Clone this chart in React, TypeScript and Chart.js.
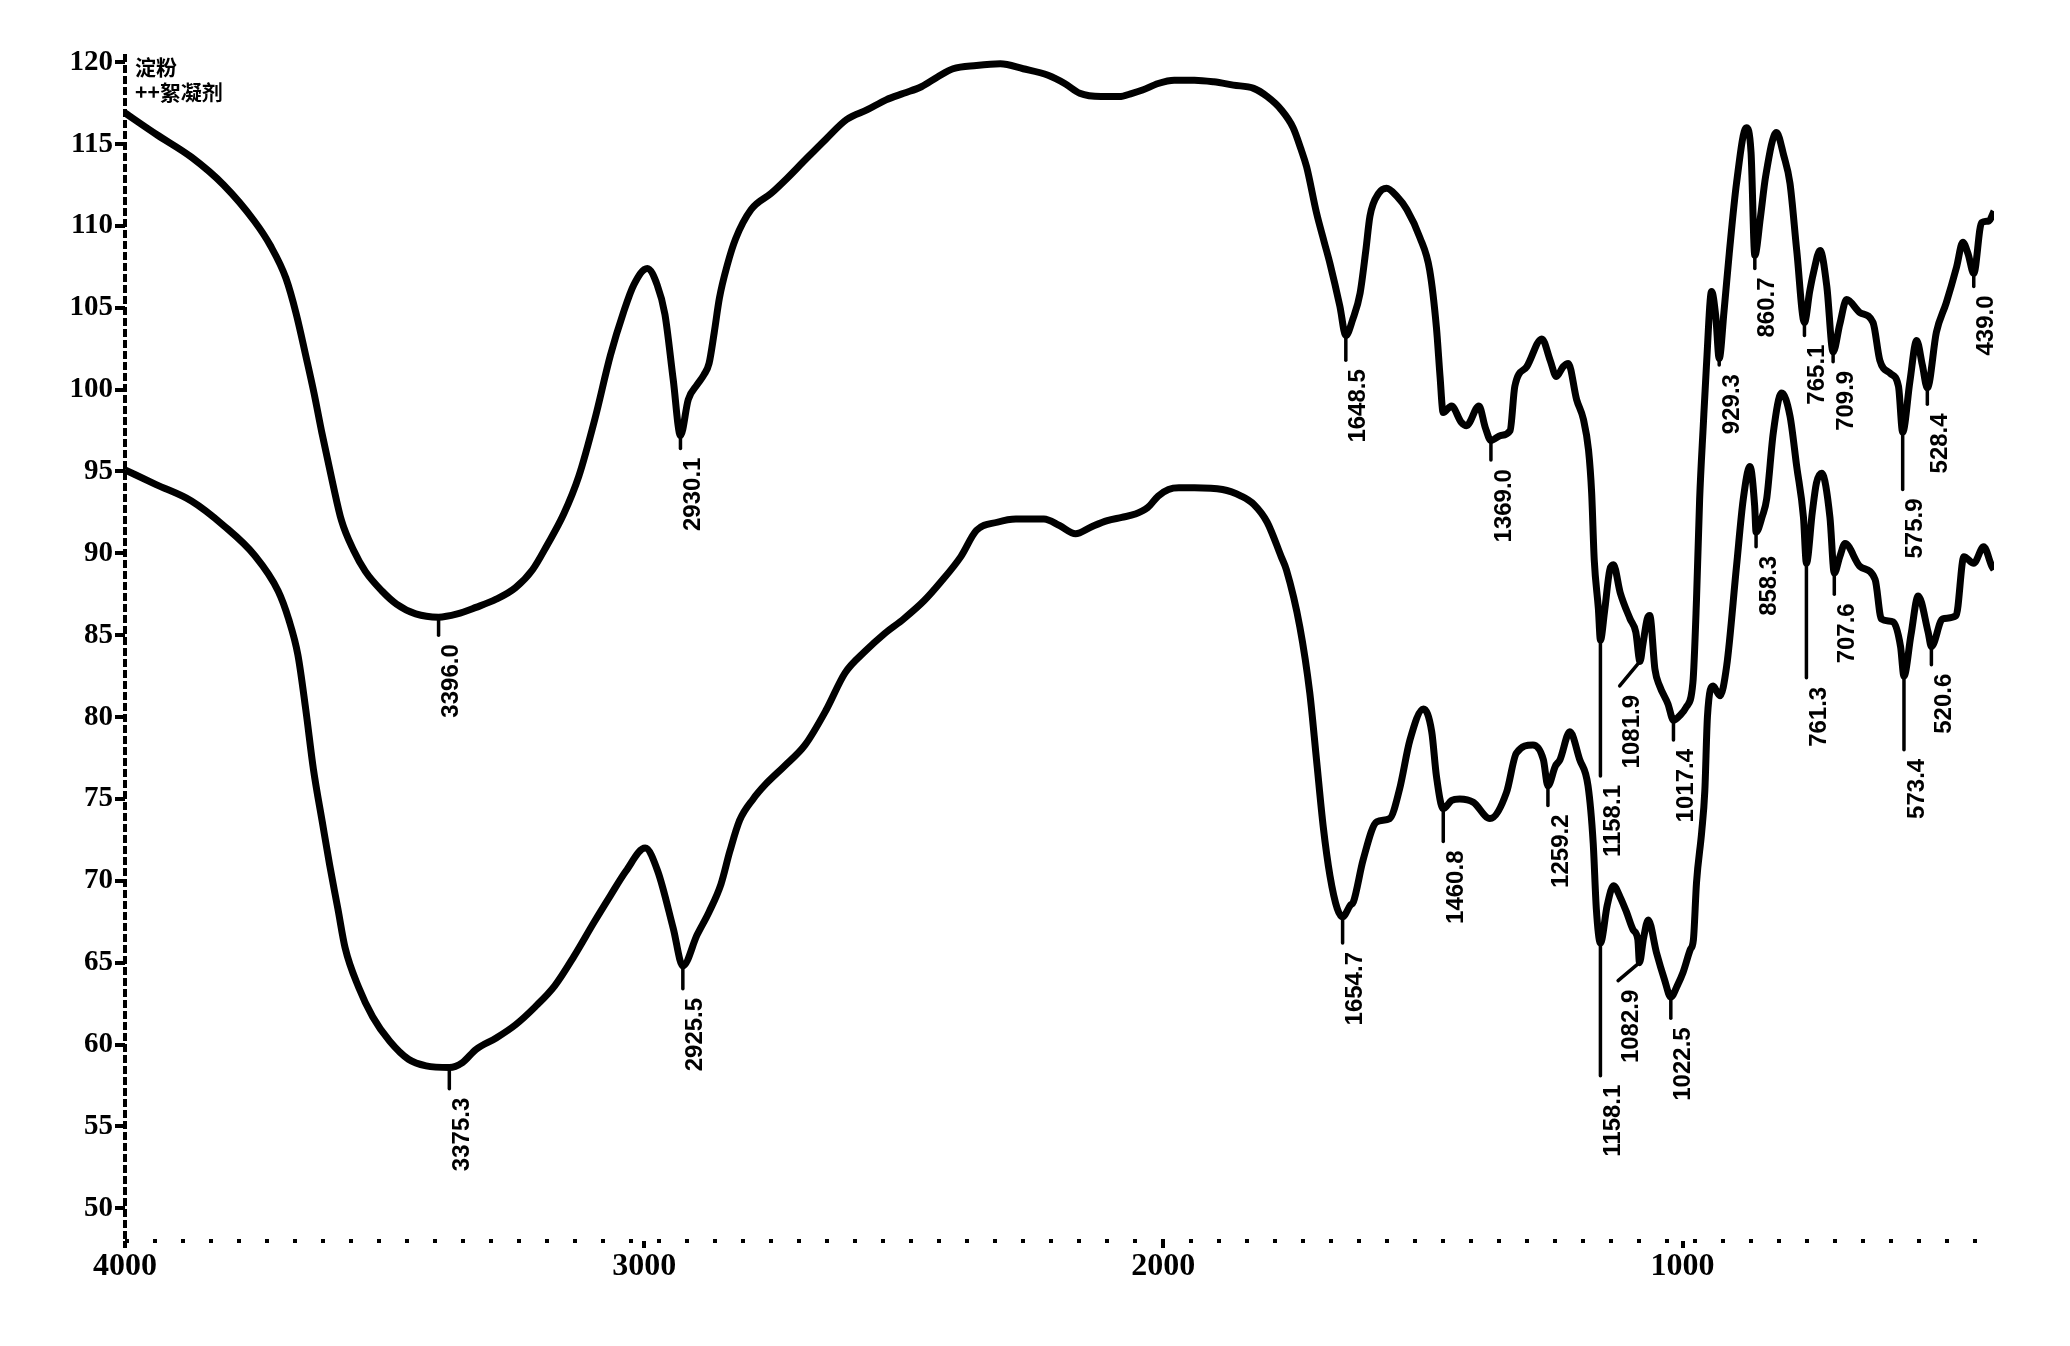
import React, { useEffect, useRef } from 'react';
import { Chart, registerables } from 'chart.js';

Chart.register(...registerables);

// ---------- data (wavenumber cm-1, transmittance %) ----------
const seriesNames = ['淀粉', '絮凝剂'];
const legendMarks = ['', '++'];

const topWn = [4000,3940,3872,3810,3751,3720,3690,3670,3652,3636,3621,3600,3583,3560,3537,3505,3477,3440,3396,3360,3324,3285,3248,3215,3187,3155,3126,3095,3065,3040,3020,2994,2975,2960,2944,2930.1,2915,2898,2885,2875,2865,2855,2840,2824,2794,2755,2725,2694,2650,2610,2570,2534,2500,2466,2435,2405,2360,2314,2270,2222,2190,2161,2120,2085,2060,2040,2010,1979,1940,1903,1865,1826,1800,1773,1750,1735,1724,1705,1690,1679,1660,1648.5,1635,1621,1610,1602,1585,1570,1550,1531,1506,1487,1474,1467,1461,1445,1426,1416,1392,1380,1369,1350,1332,1323,1300,1271,1255,1243,1230,1220,1204,1191,1181,1175,1170,1162,1158.1,1150,1140,1133,1120,1101,1090,1081.9,1076,1068,1063,1053,1044,1028,1017.4,1005,993,980,973,967,960,954,944,936,929.3,920,910,896,877,868,860.7,850,840,819,805,793,780,765.1,755,748,735,722,709.9,697,684,658,633,620,600,584,575.9,562,549,538,528.4,511,492,472,460,450,439,424,410,400];
const topT = [116.9,115.6,114.2,112.5,110.3,108.8,106.8,104.6,102.1,99.8,97.4,94.3,92.0,90.2,88.9,87.7,86.9,86.3,86.1,86.3,86.7,87.2,87.9,89.0,90.5,92.4,94.7,98.2,102.1,104.7,106.4,107.4,106.4,104.6,100.6,97.2,99.4,100.3,100.9,101.6,103.5,105.6,107.6,109.2,111.0,112.0,112.9,113.9,115.3,116.5,117.1,117.7,118.1,118.5,119.1,119.6,119.8,119.9,119.6,119.2,118.7,118.1,117.9,117.9,118.1,118.3,118.7,118.9,118.9,118.8,118.6,118.4,117.9,117.1,116.0,114.7,113.6,110.8,109.0,107.7,105.1,103.3,104.3,105.9,108.5,110.6,112.0,112.3,111.8,111.0,109.3,107.3,103.8,100.8,98.6,99.0,98.0,97.8,99.0,97.7,96.9,97.2,97.5,100.2,101.4,103.1,101.8,100.8,101.4,101.6,99.4,98.2,96.3,93.7,89.6,86.6,84.7,86.5,89.0,89.3,87.6,86.0,85.2,83.4,84.5,86.0,86.2,82.9,81.9,80.8,79.8,80.1,80.6,82.1,87.2,93.3,97.8,101.4,106.0,104.5,101.9,104.8,108.3,112.6,116.0,114.5,108.2,110.5,113.0,115.7,114.3,112.6,108.5,104.1,106.0,107.1,108.5,106.3,102.3,104.0,105.5,104.7,104.1,101.8,101.0,100.2,97.4,100.5,103.0,101.5,100.1,103.5,105.3,107.5,109.0,108.3,107.1,110.2,110.3,110.9];

const botWn = [4000,3940,3872,3810,3751,3705,3685,3667,3652,3637,3620,3606,3590,3576,3550,3523,3490,3454,3420,3375.3,3350,3324,3285,3248,3210,3172,3135,3096,3065,3035,2998,2974,2944,2925.5,2898,2875,2852,2835,2816,2790,2766,2730,2690,2650,2613,2575,2537,2500,2461,2430,2390,2360,2320,2284,2230,2200,2169,2140,2108,2080,2054,2030,2010,1990,1970,1940,1886,1850,1826,1800,1773,1763,1737,1718,1705,1692,1679,1665,1654.7,1640,1634,1615,1589,1564,1545,1525,1499,1483,1474,1460.8,1445,1429,1403,1371,1339,1320,1288,1268,1259.2,1245,1236,1217,1198,1182,1172,1166,1158.1,1145,1133,1120,1108,1095,1086,1082.9,1075,1066,1050,1035,1022.5,1010,999,985,979,973,963,957,952,941,928,915,896,883,870,861,858.3,846,838,825,809,793,780,767,761.3,750,742,732,716,707.6,697,687,658,629,617,594,580,573.4,560,546,527,520.6,499,473,458,439,420,404,400];
const botT = [95.1,94.2,93.2,91.7,89.9,87.7,86.0,83.8,80.5,76.8,73.6,71.0,68.3,65.9,63.5,61.7,60.2,59.1,58.7,58.6,58.9,59.7,60.4,61.2,62.3,63.6,65.4,67.5,69.1,70.6,72.0,70.6,67.1,64.8,66.7,68.1,69.8,71.8,73.7,75.0,75.9,77.0,78.3,80.4,82.7,84.0,85.1,86.0,87.1,88.2,89.8,91.4,91.9,92.1,92.1,91.7,91.2,91.6,92.0,92.2,92.4,92.8,93.5,93.9,94.0,94.0,93.9,93.5,93.0,91.9,89.8,89.0,85.5,81.5,77.4,73.3,70.3,68.3,67.8,68.5,68.7,71.3,73.6,73.8,75.6,78.6,80.5,79.1,76.4,74.4,74.9,75.0,74.8,73.8,75.4,77.8,78.3,77.4,75.8,77.0,77.4,79.1,77.4,75.8,72.3,68.3,66.2,68.5,69.7,69.0,68.1,67.0,66.4,65.0,66.5,67.6,65.6,64.0,62.9,63.6,64.4,65.8,66.4,69.9,73.0,75.5,80.0,81.9,81.3,83.1,89.2,93.3,95.3,92.9,91.3,92.3,93.3,97.4,99.8,98.4,95.3,92.2,89.4,92.5,94.3,94.9,92.2,88.8,89.8,90.6,89.2,88.4,86.0,85.8,84.3,82.5,85.0,87.4,85.2,84.3,86.0,86.2,89.8,89.4,90.4,89.2,89.0];

const xTicks = [4000, 3000, 2000, 1000];
const yTicks = [50, 55, 60, 65, 70, 75, 80, 85, 90, 95, 100, 105, 110, 115, 120];

// peak annotations: label text, peak wavenumber, leader end wavenumber, leader end value
const topPeakText = ['3396.0','2930.1','1648.5','1369.0','1158.1','1081.9','1017.4','929.3','860.7','765.1','709.9','575.9','528.4','439.0'];
const topPeakWn = [3396,2930.1,1648.5,1369,1158.1,1081.9,1017.4,929.3,860.7,765.1,709.9,575.9,528.4,439];
const topLeaderWn = [3396,2930.1,1648.5,1369,1158.1,1121,1017.4,929.3,860.7,765.1,709.9,575.9,528.4,439];
const topLeaderEnd = [85.0,96.4,101.8,95.7,76.4,81.9,78.6,101.5,107.4,103.3,101.7,93.9,99.1,106.3];

const botPeakText = ['3375.3','2925.5','1654.7','1460.8','1259.2','1158.1','1082.9','1022.5','858.3','761.3','707.6','573.4','520.6'];
const botPeakWn = [3375.3,2925.5,1654.7,1460.8,1259.2,1158.1,1082.9,1022.5,858.3,761.3,707.6,573.4,520.6];
const botLeaderWn = [3375.3,2925.5,1654.7,1460.8,1259.2,1158.1,1124,1022.5,858.3,761.3,707.6,573.4,520.6];
const botLeaderEnd = [57.3,63.4,66.2,72.4,74.6,58.1,63.9,61.6,90.4,82.4,87.5,78.0,83.2];

// ---------- helpers ----------
function valueAt(wn: number[], t: number[], w: number): number {
  for (let i = 0; i < wn.length - 1; i++) {
    const a = wn[i], b = wn[i + 1];
    if ((w <= a && w >= b) || (w >= a && w <= b)) {
      if (a === b) return t[i];
      const f = (w - a) / (b - a);
      return t[i] + f * (t[i + 1] - t[i]);
    }
  }
  return t[t.length - 1];
}

const peakGroups = [
  { wn: topWn, t: topT, text: topPeakText, peak: topPeakWn, lw: topLeaderWn, le: topLeaderEnd },
  { wn: botWn, t: botT, text: botPeakText, peak: botPeakWn, lw: botLeaderWn, le: botLeaderEnd },
];

const axesPlugin = {
  id: 'scanAxes',
  beforeDatasetsDraw(chart: any) {
    const { ctx, chartArea } = chart;
    ctx.save();
    ctx.strokeStyle = '#000';
    // y axis: heavy dashed line
    ctx.lineWidth = 4;
    ctx.setLineDash([8, 3]);
    ctx.beginPath();
    ctx.moveTo(chartArea.left, chartArea.top);
    ctx.lineTo(chartArea.left, chartArea.bottom);
    ctx.stroke();
    // x axis: sparse dotted line
    ctx.lineWidth = 4;
    ctx.setLineDash([4, 24]);
    ctx.beginPath();
    ctx.moveTo(chartArea.left, chartArea.bottom);
    ctx.lineTo(chartArea.right, chartArea.bottom);
    ctx.stroke();
    ctx.restore();
  },
};

const peakPlugin = {
  id: 'peakLabels',
  afterDatasetsDraw(chart: any) {
    const { ctx, scales } = chart;
    const xs = scales.x, ys = scales.y;
    ctx.save();
    ctx.strokeStyle = '#000';
    ctx.fillStyle = '#000';
    ctx.lineWidth = 3.5;
    ctx.lineCap = 'round';
    ctx.font = 'bold 24px "Liberation Sans", Arial, sans-serif';
    for (const g of peakGroups) {
      for (let i = 0; i < g.text.length; i++) {
        const v0 = valueAt(g.wn, g.t, g.peak[i]);
        const x0 = xs.getPixelForValue(g.peak[i]);
        const y0 = ys.getPixelForValue(v0);
        const x1 = xs.getPixelForValue(g.lw[i]);
        const y1 = ys.getPixelForValue(g.le[i]);
        ctx.beginPath();
        ctx.moveTo(x0, y0);
        ctx.lineTo(x1, y1);
        ctx.stroke();
        ctx.save();
        ctx.translate(x1 + 13, y1 + 9);
        ctx.rotate(-Math.PI / 2);
        ctx.textAlign = 'right';
        ctx.textBaseline = 'middle';
        ctx.fillText(g.text[i], 0, 0);
        ctx.restore();
      }
    }
    ctx.restore();
  },
};

const legendPlugin = {
  id: 'cornerLegend',
  afterDraw(chart: any) {
    const { ctx, chartArea } = chart;
    ctx.save();
    ctx.fillStyle = '#000';
    ctx.font = 'bold 21px "Noto Sans CJK SC", sans-serif';
    ctx.textAlign = 'left';
    ctx.textBaseline = 'middle';
    chart.data.datasets.forEach((ds: any, i: number) => {
      ctx.fillText(legendMarks[i] + ds.label, chartArea.left + 10, chartArea.top + 13 + i * 25);
    });
    ctx.restore();
  },
};

export default function App() {
  const ref = useRef<HTMLCanvasElement | null>(null);

  useEffect(() => {
    if (!ref.current) return;
    const mk = (wn: number[], t: number[]) => wn.map((w, i) => ({ x: w, y: t[i] }));
    const chart = new Chart(ref.current, {
      type: 'line',
      data: {
        datasets: [
          {
            label: seriesNames[0],
            data: mk(topWn, topT),
            borderColor: '#000',
            borderWidth: 7,
            pointRadius: 0,
            fill: false,
            cubicInterpolationMode: 'monotone',
          },
          {
            label: seriesNames[1],
            data: mk(botWn, botT),
            borderColor: '#000',
            borderWidth: 7,
            pointRadius: 0,
            fill: false,
            cubicInterpolationMode: 'monotone',
          },
        ],
      },
      options: {
        animation: false,
        responsive: false,
        maintainAspectRatio: false,
        layout: { padding: { left: 0, right: 76, top: 54, bottom: 0 } },
        plugins: { legend: { display: false }, tooltip: { enabled: false } },
        scales: {
          x: {
            type: 'linear',
            reverse: true,
            min: 400,
            max: 4000,
            afterBuildTicks: (s: any) => {
              s.ticks = xTicks.map((v) => ({ value: v }));
            },
            afterFit: (s: any) => {
              s.height = 105;
            },
            ticks: {
              color: '#000',
              padding: 0,
              autoSkip: false,
              maxRotation: 0,
              callback: (v: any) => String(v),
              font: { family: '"Liberation Serif", serif', weight: 'bold', size: 32 },
            },
            grid: { display: true, drawOnChartArea: false, drawTicks: true, tickLength: 7, color: '#000', lineWidth: 4 },
            border: { display: false },
          },
          y: {
            min: 48,
            max: 120.5,
            afterBuildTicks: (s: any) => {
              s.ticks = yTicks.map((v) => ({ value: v }));
            },
            afterFit: (s: any) => {
              s.width = 125;
            },
            ticks: {
              color: '#000',
              padding: 2,
              autoSkip: false,
              callback: (v: any) => String(v),
              font: { family: '"Liberation Serif", serif', weight: 'bold', size: 29 },
            },
            grid: { display: true, drawOnChartArea: false, drawTicks: true, tickLength: 10, color: '#000', lineWidth: 4 },
            border: { display: false },
          },
        },
      },
      plugins: [axesPlugin, peakPlugin, legendPlugin],
    } as any);
    return () => chart.destroy();
  }, []);

  return (
    <div style={{ position: 'absolute', left: 0, top: 0, width: 2070, height: 1346, background: '#fff' }}>
      <canvas ref={ref} width={2070} height={1346} style={{ display: 'block', width: 2070, height: 1346 }} />
    </div>
  );
}
